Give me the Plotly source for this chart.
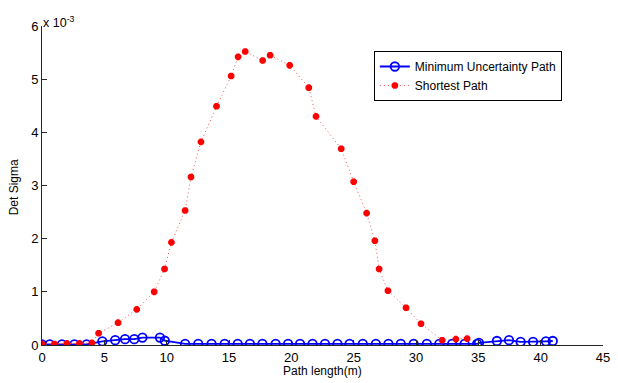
import plotly.graph_objects as go

# Path length (m) and det(Sigma) in units of 1e-3
min_unc_x = [0, 0.62, 1.6, 2.6, 3.58, 4.84, 5.87, 6.66, 7.4, 8.06, 9.46, 9.85,
             11.48, 12.53, 13.6, 14.65, 15.7, 16.68, 17.68, 18.74, 19.74, 20.7,
             21.7, 22.7, 23.7, 24.67, 25.73, 26.78, 27.79, 28.78, 29.81, 30.87,
             31.87, 32.9, 33.9, 34.9, 35.05, 36.49, 37.46, 38.39, 39.39, 40.42, 40.97]
min_unc_y = [0.01, 0.01, 0.01, 0.01, 0.01, 0.07, 0.09, 0.11, 0.11, 0.14, 0.14, 0.08,
             0.02, 0.02, 0.02, 0.02, 0.02, 0.02, 0.02, 0.02, 0.02, 0.02,
             0.02, 0.02, 0.02, 0.02, 0.02, 0.02, 0.02, 0.02, 0.02, 0.02,
             0.02, 0.02, 0.02, 0.02, 0.04, 0.075, 0.09, 0.06, 0.06, 0.07, 0.075]

shortest_x = [0, 1.0, 2.0, 3.0, 4.0, 4.54, 6.1, 7.6, 9.0, 9.83, 10.38, 11.48, 11.95,
              12.75, 14.0, 15.17, 15.73, 16.3, 17.7, 18.3, 19.87, 21.4, 21.98, 24.0,
              25.0, 26.04, 26.7, 27.04, 27.75, 29.2, 30.4, 32.1, 33.2, 34.1]
shortest_y = [0.02, 0.02, 0.03, 0.03, 0.04, 0.22, 0.42, 0.67, 1.0, 1.43, 1.93, 2.53, 3.16,
              3.82, 4.49, 5.06, 5.42, 5.52, 5.35, 5.45, 5.26, 4.84, 4.30, 3.69,
              3.07, 2.48, 1.96, 1.43, 1.02, 0.70, 0.40, 0.09, 0.11, 0.12]

x_ticks = [0, 5, 10, 15, 20, 25, 30, 35, 40, 45]
y_ticks = [0, 1, 2, 3, 4, 5, 6]

FONT = "Liberation Sans, Arial, Helvetica, sans-serif"

fig = go.Figure()
fig.add_trace(go.Scatter(
    x=min_unc_x, y=min_unc_y, mode="lines+markers",
    name="Minimum Uncertainty Path",
    line=dict(color="#0000ff", width=1.8),
    marker=dict(symbol="circle-open", size=8.5, color="#0000ff",
                line=dict(width=1.8, color="#0000ff")),
))
fig.add_trace(go.Scatter(
    x=shortest_x, y=shortest_y, mode="lines+markers",
    name="Shortest Path",
    line=dict(color="#ff5050", width=1, dash="1px,3px"),
    marker=dict(symbol="asterisk-open", size=5.5, color="#ff0000",
                line=dict(width=2.5, color="#ff0000")),
))

axis_common = dict(
    showgrid=False, zeroline=False, showline=True, linecolor="#262626",
    linewidth=1, ticks="inside", ticklen=5, tickcolor="#262626",
    tickfont=dict(family=FONT, size=13, color="black"), mirror=False,
)

fig.update_layout(
    width=618, height=383,
    margin=dict(l=42, r=8, t=26, b=38),
    paper_bgcolor="white", plot_bgcolor="white",
    font=dict(family=FONT, size=12, color="black"),
    xaxis=dict(range=[0, 45], tickvals=x_ticks, **axis_common),
    yaxis=dict(range=[0, 6], tickvals=y_ticks, **axis_common),
    showlegend=True,
    legend=dict(
        x=(378 - 42) / 568, y=(345 - 51) / 319, xanchor="left", yanchor="top",
        bgcolor="white", bordercolor="black", borderwidth=1,
        font=dict(family=FONT, size=12, color="black"),
        tracegroupgap=0, itemwidth=30,
    ),
    annotations=[
        dict(text="Path length(m)", xref="paper", yref="paper",
             x=0.5, y=-(371 - 345) / 319, xanchor="center", yanchor="middle",
             showarrow=False, font=dict(family=FONT, size=12, color="black")),
        dict(text="Det Sigma", xref="paper", yref="paper", textangle=-90,
             x=(14 - 42) / 568, y=(345 - 187) / 319, xanchor="center", yanchor="middle",
             showarrow=False, font=dict(family=FONT, size=12, color="black")),
        dict(text="x 10<sup>-3</sup>", xref="paper", yref="paper",
             x=0, y=1, xanchor="left", yanchor="bottom", yshift=-6, xshift=-1,
             showarrow=False, font=dict(family=FONT, size=12.5, color="black")),
    ],
)

fig.write_html("out.html")
